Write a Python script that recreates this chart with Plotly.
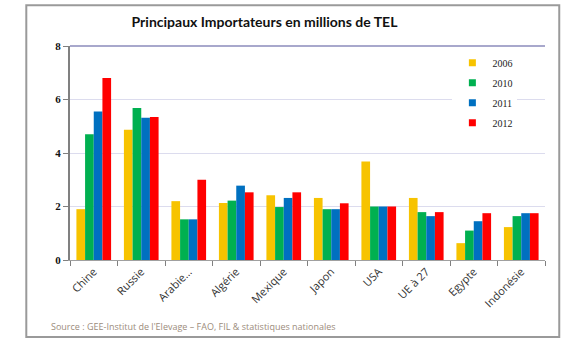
import plotly.graph_objects as go

categories = ["Chine", "Russie", "Arabie...", "Algérie", "Mexique", "Japon", "USA", "UE à 27", "Egypte", "Indonésie"]
years = ["2006", "2010", "2011", "2012"]
v2006 = [1.9, 4.87, 2.2, 2.13, 2.42, 2.32, 3.68, 2.32, 0.63, 1.23]
v2010 = [4.7, 5.68, 1.52, 2.22, 1.98, 1.9, 2.0, 1.79, 1.1, 1.64]
v2011 = [5.55, 5.32, 1.52, 2.78, 2.32, 1.9, 2.0, 1.64, 1.45, 1.75]
v2012 = [6.8, 5.35, 3.0, 2.53, 2.53, 2.12, 2.0, 1.79, 1.75, 1.75]
colors = ["#F7C300", "#00B050", "#0070C0", "#FF0000"]
series = [v2006, v2010, v2011, v2012]

fig = go.Figure()
for y, vals, c in zip(years, series, colors):
    fig.add_trace(go.Bar(name=y, x=categories, y=vals, marker_color=c,
                         marker_line_width=0, legendgroup=y, showlegend=False))
# small square legend keys
for y, c in zip(years, colors):
    fig.add_trace(go.Scatter(name=y, x=[None], y=[None], mode="markers",
                             marker=dict(symbol="square", size=7, color=c),
                             legendgroup=y, showlegend=True))

fig.update_layout(
    width=575, height=347,
    margin=dict(l=70, r=30, t=46, b=87),
    paper_bgcolor="white", plot_bgcolor="white",
    barmode="group", bargap=0.27, bargroupgap=0,
    title=dict(text="<b>Principaux Importateurs en millions de TEL</b>",
               x=0.46, xanchor="center", y=0.935, yanchor="middle",
               font=dict(family="Lato", size=14, color="#111111")),
    font=dict(family="Liberation Serif", color="#222222"),
    legend=dict(x=0.805, y=0.99, xanchor="left", yanchor="top",
                bgcolor="white", font=dict(family="Liberation Serif", size=10, color="#222222"),
                traceorder="grouped", tracegroupgap=1, itemwidth=30),
    showlegend=True,
)
fig.update_yaxes(range=[0, 8], dtick=2, showgrid=True, gridcolor="#DCDCEE", gridwidth=1,
                 showline=True, linecolor="#808080", linewidth=2,
                 ticks="outside", ticklen=5, tickcolor="#808080",
                 tickfont=dict(family="Liberation Serif", size=11, color="#111111"),
                 tickprefix="<b>", ticksuffix="</b>",
                 zeroline=False)
fig.update_xaxes(type="category", showline=True, linecolor="#A0A0A0", linewidth=1,
                 ticks="outside", tickson="boundaries", ticklen=5, tickcolor="#808080",
                 tickangle=-45, tickfont=dict(family="Open Sans", size=11, color="#333333"))

# top border line of plot area
fig.add_shape(type="line", xref="x domain", yref="y domain", x0=0, x1=1, y0=1, y1=1,
              line=dict(color="#A8A8CC", width=2))
# outer frame
fig.add_shape(type="rect", xref="paper", yref="paper", x0=-0.092, x1=1.03, y0=-0.36, y1=1.19,
              line=dict(color="#9A9A9A", width=2))
fig.add_annotation(text="Source : GEE-Institut de l'Elevage – FAO, FIL & statistiques nationales",
                   xref="paper", yref="paper", x=-0.045, y=-0.31, xanchor="left", yanchor="middle",
                   showarrow=False, font=dict(family="Open Sans", size=9, color="#9C8C7C"))

fig.write_html("out.html")
